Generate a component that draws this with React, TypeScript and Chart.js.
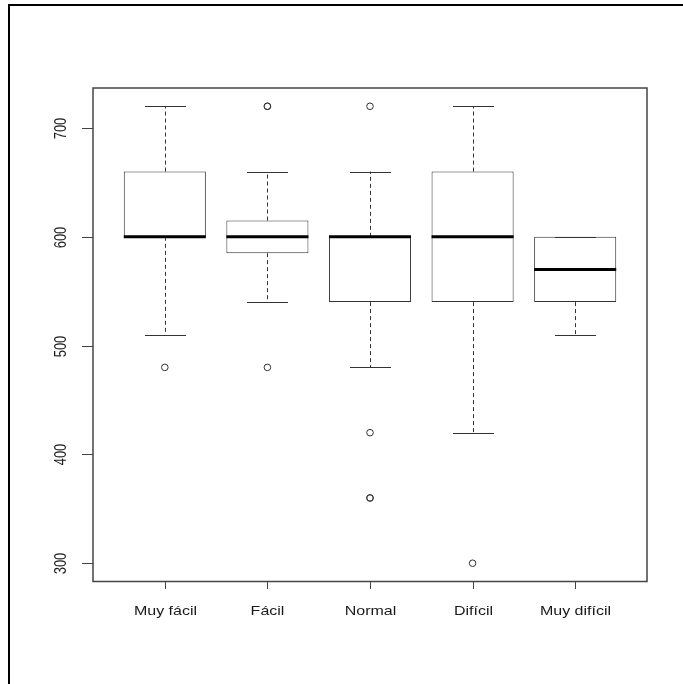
import React, { useEffect, useRef } from "react";
import { Chart, registerables } from "chart.js";

Chart.register(...registerables);

const categories = ["Muy fácil", "Fácil", "Normal", "Difícil", "Muy difícil"];
const whiskerLow = [510, 540, 480, 420, 510];
const q1 = [600, 585, 540, 540, 540];
const medians = [600, 600, 600, 600, 570];
const q3 = [660, 615, 600, 660, 600];
const whiskerHigh = [720, 660, 660, 720, 600];
const outliers: number[][] = [[480], [720, 720, 480], [720, 420, 360, 360], [300], []];
const yTicks = [300, 400, 500, 600, 700];
const yMin = 283.2;
const yMax = 736.8;

const STRETCH = 1.23;

const boxPlugin = {
  id: "rbox",
  afterDatasetsDraw(chart: any) {
    const ctx = chart.ctx;
    const xs = chart.scales.x;
    const ys = chart.scales.y;
    const step = xs.getPixelForValue(2) - xs.getPixelForValue(1);
    const capHalf = step * 0.2;
    ctx.save();
    categories.forEach((_, i) => {
      const cx = Math.round(xs.getPixelForValue(i + 1)) + 0.5;
      ctx.strokeStyle = "#333";
      ctx.lineWidth = 1;
      ctx.setLineDash([4, 3]);
      ctx.beginPath();
      ctx.moveTo(cx, ys.getPixelForValue(q3[i]));
      ctx.lineTo(cx, ys.getPixelForValue(whiskerHigh[i]));
      ctx.moveTo(cx, ys.getPixelForValue(q1[i]));
      ctx.lineTo(cx, ys.getPixelForValue(whiskerLow[i]));
      ctx.stroke();
      ctx.setLineDash([]);
      ctx.beginPath();
      const yh = Math.round(ys.getPixelForValue(whiskerHigh[i])) + 0.5;
      const yl = Math.round(ys.getPixelForValue(whiskerLow[i])) + 0.5;
      ctx.moveTo(cx - capHalf, yh);
      ctx.lineTo(cx + capHalf, yh);
      ctx.moveTo(cx - capHalf, yl);
      ctx.lineTo(cx + capHalf, yl);
      ctx.stroke();
      const bar = chart.getDatasetMeta(0).data[i];
      const half = bar.width / 2;
      ctx.strokeStyle = "#000";
      ctx.lineWidth = 3;
      ctx.beginPath();
      const ym = ys.getPixelForValue(medians[i]);
      ctx.moveTo(bar.x - half, ym);
      ctx.lineTo(bar.x + half, ym);
      ctx.stroke();
    });
    ctx.restore();
  },
  afterDraw(chart: any) {
    const ctx = chart.ctx;
    const xs = chart.scales.x;
    const ys = chart.scales.y;
    const a = chart.chartArea;
    ctx.save();
    ctx.strokeStyle = "#444";
    ctx.lineWidth = 1.5;
    ctx.strokeRect(a.left, a.top, a.right - a.left, a.bottom - a.top);
    ctx.lineWidth = 1;
    ctx.strokeStyle = "#444";
    ctx.fillStyle = "#1a1a1a";
    ctx.font = "13px 'Liberation Sans', Arial, sans-serif";
    yTicks.forEach((v) => {
      const y = Math.round(ys.getPixelForValue(v)) + 0.5;
      ctx.beginPath();
      ctx.moveTo(a.left - 11, y);
      ctx.lineTo(a.left, y);
      ctx.stroke();
      ctx.save();
      ctx.translate(a.left - 31, y);
      ctx.scale(STRETCH, 1);
      ctx.rotate(-Math.PI / 2);
      ctx.textAlign = "center";
      ctx.textBaseline = "middle";
      ctx.fillText(String(v), 0, 0);
      ctx.restore();
    });
    categories.forEach((c, i) => {
      const x = Math.round(xs.getPixelForValue(i + 1)) + 0.5;
      ctx.beginPath();
      ctx.moveTo(x, a.bottom);
      ctx.lineTo(x, a.bottom + 7.5);
      ctx.stroke();
      ctx.save();
      ctx.translate(x, a.bottom + 29.5);
      ctx.scale(STRETCH, 1);
      ctx.textAlign = "center";
      ctx.textBaseline = "middle";
      ctx.fillText(c, 0, 0);
      ctx.restore();
    });
    ctx.restore();
  },
};

export default function App() {
  const ref = useRef<HTMLCanvasElement>(null);
  useEffect(() => {
    if (!ref.current) return;
    const outlierPoints: { x: number; y: number }[] = [];
    outliers.forEach((arr, i) => arr.forEach((v) => outlierPoints.push({ x: i + 1, y: v })));
    const chart = new Chart(ref.current, {
      type: "bar",
      data: {
        datasets: [
          {
            type: "bar",
            data: categories.map((_, i) => ({ x: i + 1, y: [q1[i], q3[i]] })) as any,
            backgroundColor: "#ffffff",
            borderColor: "#333",
            borderWidth: 1,
            borderSkipped: false,
            barPercentage: 0.8,
            categoryPercentage: 1,
          },
          {
            type: "scatter",
            data: outlierPoints,
            pointStyle: "circle",
            pointRadius: 3.3,
            pointBorderWidth: 1,
            pointBorderColor: "#333",
            pointBackgroundColor: "rgba(255,255,255,0)",
          } as any,
        ],
      },
      options: {
        responsive: false,
        animation: false,
        events: [],
        layout: { padding: { left: 93, top: 88, right: 36, bottom: 102.5 } },
        plugins: { legend: { display: false }, tooltip: { enabled: false } },
        scales: {
          x: {
            type: "linear",
            min: 0.3,
            max: 5.7,
            offset: false,
            display: false,
            afterBuildTicks: (scale: any) => {
              scale.ticks = categories.map((_, i) => ({ value: i + 1 }));
            },
          },
          y: { type: "linear", min: yMin, max: yMax, display: false },
        },
      },
      plugins: [boxPlugin],
    });
    return () => chart.destroy();
  }, []);
  return (
    <div style={{ position: "fixed", left: 0, top: 0, width: 683, height: 684, background: "#fff" }}>
      <canvas ref={ref} width={683} height={684} style={{ position: "absolute", left: 0, top: 0 }} />
      <div
        style={{
          position: "absolute",
          left: 8,
          top: 4,
          right: 0,
          bottom: 0,
          borderTop: "2px solid #000",
          borderLeft: "2px solid #000",
        }}
      />
    </div>
  );
}
